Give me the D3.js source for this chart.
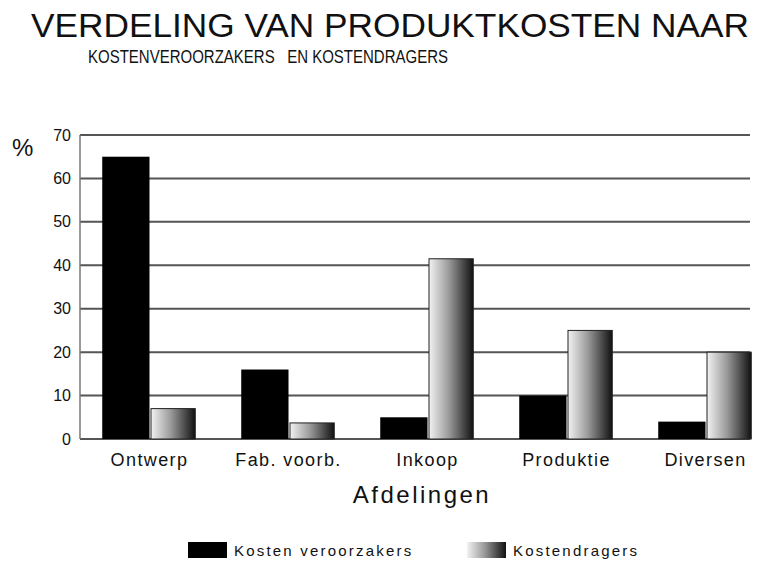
<!DOCTYPE html>
<html>
<head>
<meta charset="utf-8">
<script src="https://cdnjs.cloudflare.com/ajax/libs/d3/7.8.5/d3.min.js"></script>
<style>
body { margin: 0; background: #fff; }
svg text { font-family: "Liberation Sans", Arial, sans-serif; fill: #111; }
</style>
</head>
<body>
<div id="chart"></div>
<script>
var afdelingen = ["Ontwerp", "Fab. voorb.", "Inkoop", "Produktie", "Diversen"];
var veroorzakers = [65, 16, 5, 10, 4];
var dragers = [7, 3.7, 41.5, 25, 20];
var yTicks = [0, 10, 20, 30, 40, 50, 60, 70];
var seriesNames = ["Kosten veroorzakers", "Kostendragers"];

var W = 759, H = 561;
var svg = d3.select("#chart").append("svg")
	.attr("width", W)
	.attr("height", H);

var defs = svg.append("defs");
var grad = defs.append("linearGradient")
	.attr("id", "grijs")
	.attr("x1", "0%").attr("x2", "100%")
	.attr("y1", "0%").attr("y2", "0%");
grad.append("stop").attr("offset", "0%").attr("stop-color", "#f2f2f2");
grad.append("stop").attr("offset", "45%").attr("stop-color", "#9a9a9a");
grad.append("stop").attr("offset", "100%").attr("stop-color", "#111");

var plotLeft = 80, plotRight = 750, plotTop = 135, plotBottom = 439;

var x = d3.scaleBand()
	.domain(afdelingen)
	.range([plotLeft, plotLeft + 5 * 139])
	.paddingInner(0.32)
	.paddingOuter(0.16);

var y = d3.scaleLinear()
	.domain([0, 70])
	.range([plotBottom, plotTop]);

// gridlines
svg.append("g")
	.selectAll("line")
	.data(yTicks)
	.enter()
	.append("line")
	.attr("x1", plotLeft)
	.attr("x2", plotRight)
	.attr("y1", function(d) { return y(d); })
	.attr("y2", function(d) { return y(d); })
	.attr("stroke", "#555")
	.attr("stroke-width", 2);

svg.append("line")
	.attr("x1", plotLeft).attr("x2", plotLeft)
	.attr("y1", plotTop).attr("y2", plotBottom)
	.attr("stroke", "#777")
	.attr("stroke-width", 1.5);

// y axis labels
var yAxis = svg.append("g")
	.attr("transform", "translate(" + plotLeft + ",0)")
	.call(d3.axisLeft(y).tickValues(yTicks).tickSize(0).tickPadding(9));
yAxis.select(".domain").remove();
yAxis.selectAll("text")
	.attr("font-size", "16px")
	.attr("font-family", "Liberation Sans, Arial, sans-serif")
	.attr("fill", "#222");

svg.append("text")
	.attr("x", 12)
	.attr("y", 156)
	.attr("font-size", "24px")
	.text("%");

var bw = x.bandwidth() / 2;

svg.append("g")
	.selectAll("rect")
	.data(veroorzakers)
	.enter()
	.append("rect")
	.attr("x", function(d, i) { return x(afdelingen[i]); })
	.attr("y", function(d) { return y(d); })
	.attr("width", bw)
	.attr("height", function(d) { return plotBottom - y(d); })
	.attr("fill", "#000");

svg.append("g")
	.selectAll("rect")
	.data(dragers)
	.enter()
	.append("rect")
	.attr("x", function(d, i) { return x(afdelingen[i]) + bw + 1.5; })
	.attr("y", function(d) { return y(d); })
	.attr("width", bw - 3)
	.attr("height", function(d) { return plotBottom - y(d); })
	.attr("fill", "url(#grijs)")
	.attr("stroke", "#222")
	.attr("stroke-width", 1);

// x axis labels
var xAxis = svg.append("g")
	.attr("transform", "translate(0," + plotBottom + ")")
	.call(d3.axisBottom(x).tickSize(0).tickPadding(14));
xAxis.select(".domain").remove();
xAxis.selectAll("text")
	.attr("font-size", "18px")
	.attr("font-family", "Liberation Sans, Arial, sans-serif")
	.attr("letter-spacing", "1.4px")
	.attr("fill", "#111");

svg.append("text")
	.attr("x", 422)
	.attr("y", 503)
	.attr("text-anchor", "middle")
	.attr("font-size", "24px")
	.attr("letter-spacing", "2.5px")
	.text("Afdelingen");

// titles
svg.append("text")
	.attr("x", 31)
	.attr("y", 37)
	.attr("font-size", "33px")
	.attr("textLength", 718)
	.attr("lengthAdjust", "spacingAndGlyphs")
	.text("VERDELING VAN PRODUKTKOSTEN NAAR");

svg.append("text")
	.attr("x", 88)
	.attr("y", 63)
	.attr("font-size", "19px")
	.attr("textLength", 360)
	.attr("lengthAdjust", "spacingAndGlyphs")
	.style("white-space", "pre")
	.text("KOSTENVEROORZAKERS   EN KOSTENDRAGERS");

// legend
var legendX = [188, 467];
var legend = svg.append("g")
	.selectAll("g")
	.data(seriesNames)
	.enter()
	.append("g")
	.attr("transform", function(d, i) { return "translate(" + legendX[i] + ",542)"; });

legend.append("rect")
	.attr("width", 39)
	.attr("height", 16)
	.attr("fill", function(d, i) { return i == 0 ? "#000" : "url(#grijs)"; });

legend.append("text")
	.attr("x", 46)
	.attr("y", 14)
	.attr("font-size", "15px")
	.attr("letter-spacing", "2.2px")
	.text(function(d) { return d; });
</script>
</body>
</html>
